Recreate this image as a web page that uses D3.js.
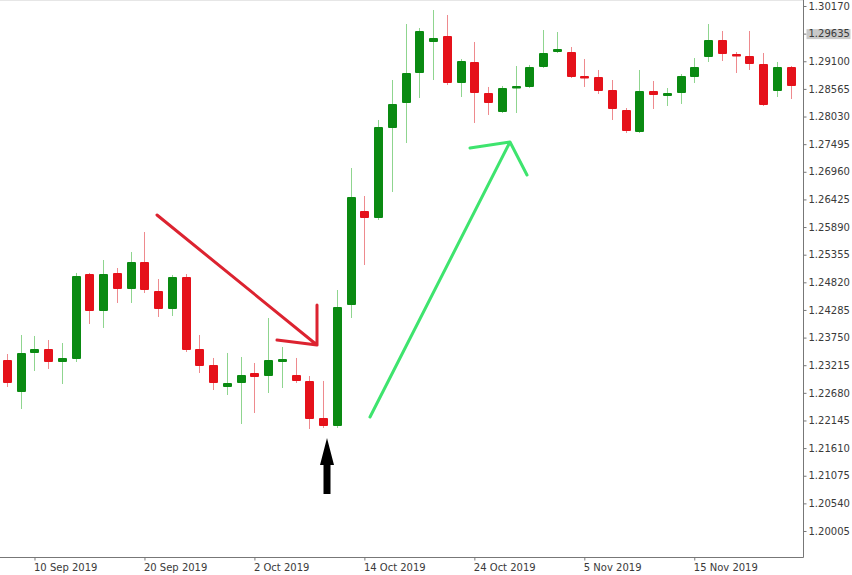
<!DOCTYPE html>
<html>
<head>
<meta charset="utf-8">
<script src="https://cdn.jsdelivr.net/npm/d3@7"></script>
<style>
  body { margin: 0; background: #fff; }
  text { font-family: "DejaVu Sans", sans-serif; font-size: 10px; fill: #3a3a3a; }
</style>
</head>
<body>
<div id="chart"></div>
<script>
// daily GBPUSD-style candles, 6 Sep 2019 .. 26 Nov 2019
var dates = ["6 Sep","9 Sep","10 Sep","11 Sep","12 Sep","13 Sep","16 Sep","17 Sep","18 Sep","19 Sep",
  "20 Sep","23 Sep","24 Sep","25 Sep","26 Sep","27 Sep","30 Sep","1 Oct","2 Oct","3 Oct",
  "4 Oct","7 Oct","8 Oct","9 Oct","10 Oct","11 Oct","14 Oct","15 Oct","16 Oct","17 Oct",
  "18 Oct","21 Oct","22 Oct","23 Oct","24 Oct","25 Oct","28 Oct","29 Oct","30 Oct","31 Oct",
  "1 Nov","4 Nov","5 Nov","6 Nov","7 Nov","8 Nov","11 Nov","12 Nov","13 Nov","14 Nov",
  "15 Nov","18 Nov","19 Nov","20 Nov","21 Nov","22 Nov","25 Nov","26 Nov"];

var open  = [1.23316,1.22697,1.23452,1.23529,1.23277,1.23335,1.24981,1.24265,1.25001,1.24691,
  1.25213,1.24652,1.24304,1.24923,1.23529,1.23219,1.22793,1.22871,1.23064,1.23006,
  1.23277,1.23026,1.22910,1.22193,1.22038,1.24381,1.26201,1.26065,1.27808,1.28292,
  1.28873,1.29473,1.29589,1.28679,1.29086,1.28485,1.28118,1.28582,1.28602,1.28989,
  1.29279,1.29279,1.28815,1.28795,1.28544,1.28156,1.27730,1.28524,1.28427,1.28485,
  1.28795,1.29182,1.29512,1.29241,1.29202,1.29047,1.28524,1.28989];
var high  = [1.23432,1.23800,1.23781,1.23703,1.23645,1.25001,1.25001,1.25252,1.25097,1.25407,
  1.25794,1.24884,1.24962,1.24981,1.23800,1.23355,1.23452,1.23374,1.23258,1.24129,
  1.23568,1.23355,1.23006,1.22910,1.24671,1.27033,1.26491,1.27963,1.28737,1.29821,
  1.29744,1.30092,1.29996,1.29144,1.29473,1.28602,1.28621,1.29008,1.29028,1.29705,
  1.29666,1.29376,1.29144,1.28931,1.28737,1.28195,1.28931,1.28718,1.28582,1.28853,
  1.29163,1.29821,1.29686,1.29279,1.29686,1.29260,1.29086,1.29008];
var low   = [1.22793,1.22367,1.23103,1.23142,1.22851,1.23277,1.24013,1.23936,1.24420,1.24420,
  1.24613,1.24149,1.24168,1.23471,1.23064,1.22735,1.22638,1.22077,1.22290,1.22677,
  1.22774,1.22871,1.21980,1.22000,1.22000,1.24129,1.25155,1.26027,1.26569,1.27517,
  1.28389,1.28737,1.28640,1.28408,1.27905,1.28060,1.28098,1.28098,1.28582,1.28970,
  1.29260,1.28776,1.28602,1.28466,1.27963,1.27711,1.27711,1.28176,1.28234,1.28273,
  1.28679,1.29086,1.29105,1.28873,1.28931,1.28234,1.28408,1.28369];
var close = [1.22871,1.23452,1.23529,1.23277,1.23355,1.24942,1.24265,1.24981,1.24691,1.25213,
  1.24671,1.24304,1.24923,1.23510,1.23200,1.22871,1.22871,1.23026,1.22987,1.23316,
  1.23335,1.22910,1.22174,1.22038,1.24342,1.26472,1.26065,1.27827,1.28273,1.28873,
  1.29686,1.29550,1.28679,1.29105,1.28485,1.28292,1.28582,1.28621,1.28989,1.29260,
  1.29337,1.28795,1.28776,1.28524,1.28176,1.27750,1.28524,1.28447,1.28485,1.28815,
  1.28989,1.29512,1.29241,1.29221,1.29047,1.28253,1.28989,1.28621];

var priceTicks = [1.30170,1.29635,1.29100,1.28565,1.28030,1.27495,1.26960,1.26425,1.25890,1.25355,
  1.24820,1.24285,1.23750,1.23215,1.22680,1.22145,1.21610,1.21075,1.20540,1.20005];
var markedPrice = 1.29635;
var dateTicks = [2, 10, 18, 26, 34, 42, 50];
var dateLabels = ["10 Sep 2019","20 Sep 2019","2 Oct 2019","14 Oct 2019","24 Oct 2019","5 Nov 2019","15 Nov 2019"];

var width = 852, height = 575;
var plotRight = 803, plotBottom = 557;

var svg = d3.select("#chart").append("svg")
  .attr("width", width)
  .attr("height", height);

var x = d3.scaleLinear().domain([0, dates.length - 1]).range([7, 790.5]);
var y = d3.scaleLinear().domain([1.20005, 1.30170]).range([531, 6]);

// frame
svg.append("line").attr("x1", plotRight + 0.5).attr("x2", plotRight + 0.5)
  .attr("y1", 0).attr("y2", plotBottom + 0.5).attr("stroke", "#777");
svg.append("line").attr("x1", 0).attr("x2", plotRight + 0.5)
  .attr("y1", plotBottom + 0.5).attr("y2", plotBottom + 0.5).attr("stroke", "#777");
svg.append("line").attr("x1", 0).attr("x2", plotRight)
  .attr("y1", 0.5).attr("y2", 0.5).attr("stroke", "#e6e6e6");

// right price axis
var yAxis = svg.append("g").attr("transform", "translate(" + (plotRight + 0.5) + ",0)")
  .call(d3.axisRight(y).tickValues(priceTicks).tickSize(3).tickPadding(2)
    .tickFormat(d3.format(".5f")));
yAxis.select(".domain").remove();
yAxis.selectAll(".tick line").attr("stroke", "#777");
yAxis.selectAll(".tick text").style("font-family", "DejaVu Sans").style("font-size", "10px")
  .attr("fill", "#3a3a3a");

// grey marker box on the price scale
yAxis.selectAll(".tick").filter(function(d) { return d === markedPrice; })
  .insert("rect", "text").attr("x", 3).attr("y", -5).attr("width", 44).attr("height", 10)
  .attr("fill", "#c9c9c9");
yAxis.selectAll(".tick").filter(function(d) { return d === markedPrice; })
  .select("text").attr("fill", "#f4f4f4");

// bottom date axis
var xAxis = svg.append("g").attr("transform", "translate(0," + (plotBottom + 0.5) + ")")
  .call(d3.axisBottom(x).tickValues(dateTicks).tickSize(3)
    .tickFormat(function(d, i) { return dateLabels[i]; }));
xAxis.select(".domain").remove();
xAxis.selectAll(".tick line").attr("stroke", "#777");
xAxis.selectAll(".tick text").style("font-family", "DejaVu Sans").style("font-size", "10px")
  .attr("fill", "#3a3a3a").attr("text-anchor", "start").attr("dx", "-1px").attr("y", 6);

// candles
var candles = dates.map(function(d, i) {
  return {i: i, o: open[i], h: high[i], l: low[i], c: close[i]};
});
var up = "#0a8a12", down = "#e5111a";
var bodyW = 9;

var g = svg.append("g");
g.selectAll("line.wick").data(candles).enter().append("line")
  .attr("class", "wick")
  .attr("x1", function(d) { return Math.round(x(d.i)) + 0.5; })
  .attr("x2", function(d) { return Math.round(x(d.i)) + 0.5; })
  .attr("y1", function(d) { return y(d.h); })
  .attr("y2", function(d) { return y(d.l); })
  .attr("stroke", function(d) { return d.c >= d.o ? "#8fd58f" : "#ee8a8e"; })
  .attr("stroke-width", 1);

g.selectAll("rect.body").data(candles).enter().append("rect")
  .attr("class", "body")
  .attr("x", function(d) { return Math.round(x(d.i)) + 0.5 - bodyW / 2; })
  .attr("width", bodyW)
  .attr("y", function(d) { return y(Math.max(d.o, d.c)); })
  .attr("height", function(d) { return Math.max(2.5, Math.abs(y(d.o) - y(d.c))); })
  .attr("rx", 1)
  .attr("fill", function(d) { return d.c >= d.o ? up : down; });

// hand-drawn annotations
var red = "#dc2330", green = "#3ee46e";
svg.append("path").attr("d", "M157,215 L317,345 M317,305 L317,345 L277,340")
  .attr("fill", "none").attr("stroke", red).attr("stroke-width", 3)
  .attr("stroke-linecap", "round").attr("stroke-linejoin", "round");
svg.append("path").attr("d", "M370,417 L510,142 M470,148 L510,142 L527,175")
  .attr("fill", "none").attr("stroke", green).attr("stroke-width", 3)
  .attr("stroke-linecap", "round").attr("stroke-linejoin", "round");

// black arrow under the low
svg.append("path").attr("d", "M327,438 L334,465 L330.5,465 L330.5,494 L323.5,494 L323.5,465 L320,465 Z")
  .attr("fill", "#000");
</script>
</body>
</html>
